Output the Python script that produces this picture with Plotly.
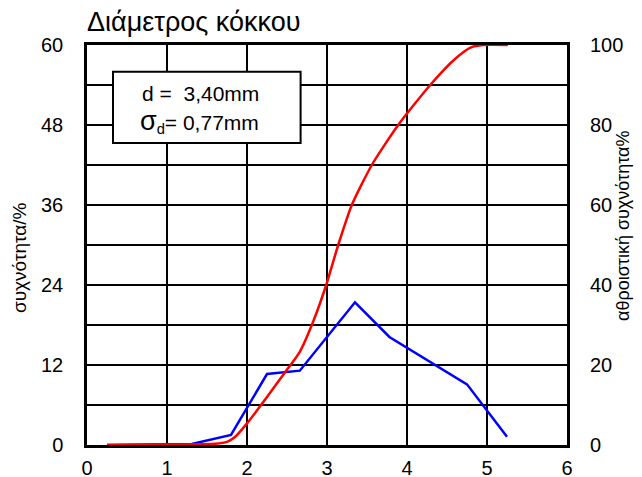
import plotly.graph_objects as go

# Frequency (%) vs grain diameter (mm)
freq_x = [0.25, 1.0, 1.31, 1.80, 2.25, 2.66, 3.35, 3.78, 4.36, 4.75, 5.25]
freq_y = [0.0, 0.05, 0.15, 1.5, 10.65, 11.15, 21.4, 16.2, 12.0, 9.1, 1.25]

# Cumulative frequency (%) vs grain diameter (mm)
cum_x = [0.25, 1.0, 1.6, 1.75, 1.85, 2.0, 2.25, 2.46, 2.66, 2.83, 2.99, 3.14, 3.31,
         3.56, 3.89, 4.29, 4.6, 4.8, 4.95, 5.26]
cum_y = [0.0, 0.1, 0.3, 0.8, 2.0, 5.4, 12.0, 17.75, 23.3, 31.0, 40.0, 50.0, 60.0,
         70.0, 80.0, 90.0, 96.5, 99.4, 100.0, 100.0]

x_ticks = [0, 1, 2, 3, 4, 5, 6]
y_left_grid = [0, 6, 12, 18, 24, 30, 36, 42, 48, 54, 60]
y_left_labels = ["0", "", "12", "", "24", "", "36", "", "48", "", "60"]
y_right_ticks = [0, 20, 40, 60, 80, 100]

title_text = "Διάμετρος κόκκου"
y_left_title = "συχνότητα/%"
y_right_title = "αθροιστική συχνότητα%"
box_line1 = "d = &nbsp;3,40mm"
box_line2 = "<span style='font-size:27px'>σ</span><sub>d</sub>= 0,77mm"

FONT = "Liberation Sans, Arial, sans-serif"

fig = go.Figure()
fig.add_trace(go.Scatter(x=freq_x, y=freq_y, mode="lines",
                         line=dict(color="#0000ff", width=2.5), yaxis="y"))
fig.add_trace(go.Scatter(x=cum_x, y=cum_y, mode="lines",
                         line=dict(color="#ff0000", width=2.5, shape="spline", smoothing=0.6),
                         yaxis="y2"))

# The page body has an 8px margin, so the figure is sized/offset to compensate
fig.update_layout(
    width=634, height=469,
    margin=dict(l=79, r=75, t=37, b=32),
    paper_bgcolor="white", plot_bgcolor="white",
    showlegend=False,
    font=dict(family=FONT, color="black", size=20),
    xaxis=dict(range=[0, 6], tickvals=x_ticks, showgrid=True, gridcolor="black",
               gridwidth=2, showline=True, linecolor="black", linewidth=2.5, mirror=True,
               zeroline=False, ticks="", tickfont=dict(size=20), ticklabelstandoff=3,
               automargin=False, fixedrange=True),
    yaxis=dict(range=[0, 60], tickvals=y_left_grid, ticktext=y_left_labels,
               showgrid=True, gridcolor="black", gridwidth=2, showline=True,
               linecolor="black", linewidth=2.5, mirror=True, zeroline=False, ticks="",
               tickfont=dict(size=20), ticklabelstandoff=17, automargin=False),
    yaxis2=dict(range=[0, 100], tickvals=y_right_ticks, overlaying="y", side="right",
                showgrid=False, zeroline=False, showline=False, ticks="",
                tickfont=dict(size=20), ticklabelstandoff=22, automargin=False),
)

fig.add_shape(type="rect", xref="x", yref="y", x0=0.325, x1=2.67, y0=45.3, y1=56.0,
              fillcolor="white", line=dict(color="black", width=2), layer="above")

fig.add_annotation(text=box_line1, xref="x", yref="y", x=0.66, y=52.8,
                   xanchor="left", yanchor="middle", showarrow=False, font=dict(size=21))
fig.add_annotation(text=box_line2, xref="x", yref="y", x=0.64, y=48.6,
                   xanchor="left", yanchor="middle", showarrow=False, font=dict(size=21))

fig.add_annotation(text=title_text, xref="paper", yref="paper", x=0, y=1,
                   xanchor="left", yanchor="middle", yshift=23, xshift=-2,
                   showarrow=False, font=dict(size=27))
fig.add_annotation(text=y_left_title, xref="paper", yref="paper", x=0, y=0.4675,
                   xshift=-68, xanchor="center", yanchor="middle", textangle=-90,
                   showarrow=False, font=dict(size=19))
fig.add_annotation(text=y_right_title, xref="paper", yref="paper", x=1, y=0.5475,
                   xshift=56, xanchor="center", yanchor="middle", textangle=-90,
                   showarrow=False, font=dict(size=18))

fig.write_html("out.html")
